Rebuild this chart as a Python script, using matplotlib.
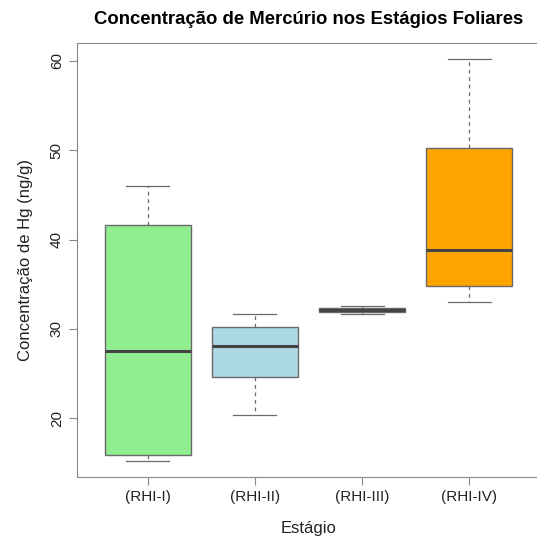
import matplotlib
matplotlib.use('Agg')
import matplotlib.pyplot as plt

plt.rcParams['font.family'] = ['Liberation Sans', 'DejaVu Sans']

# Hg concentration per leaf stage (ng/g)
stages = ['(RHI-I)', '(RHI-II)', '(RHI-III)', '(RHI-IV)']
whislo = [15.2, 20.4, 31.7, 33.0]
q1 = [15.9, 24.6, 31.9, 34.8]
med = [27.5, 28.1, 32.1, 38.8]
q3 = [41.6, 30.25, 32.4, 50.2]
whishi = [46.0, 31.7, 32.6, 60.2]
colors = ['lightgreen', 'lightblue', 'lightyellow', 'orange']

stats = []
for i in range(len(stages)):
    stats.append({'label': stages[i], 'whislo': whislo[i], 'q1': q1[i],
                  'med': med[i], 'q3': q3[i], 'whishi': whishi[i], 'fliers': []})

fig = plt.figure(figsize=(5.37, 5.39), dpi=100)
ax = fig.add_axes([77/537, 61.7/539, 463/537, 434.3/539])

edge = '#6a6a6a'
bp = ax.bxp(stats, positions=[1, 2, 3, 4], widths=0.8, patch_artist=True,
            showfliers=False,
            boxprops=dict(edgecolor=edge, linewidth=1.0),
            medianprops=dict(color='#444444', linewidth=2.2),
            whiskerprops=dict(color=edge, linewidth=0.9, linestyle=(0, (3, 3))),
            capprops=dict(color=edge, linewidth=0.9), capwidths=0.4)
for patch, c in zip(bp['boxes'], colors):
    patch.set_facecolor(c)

ax.set_xlim(0.34, 4.66)
ax.set_ylim(13.4, 62.0)
ax.set_yticks([20, 30, 40, 50, 60])
for s in ax.spines.values():
    s.set_color('#888888')
ax.tick_params(colors='#888888', labelcolor='#222222', labelsize=11, length=6)
plt.setp(ax.get_yticklabels(), rotation=90, va='center')

ax.set_title('Concentração de Mercúrio nos Estágios Foliares',
             fontsize=13.3, fontweight='bold', pad=14)
ax.set_xlabel('Estágio', fontsize=12, color='#222222', labelpad=12)
ax.set_ylabel('Concentração de Hg (ng/g)', fontsize=12, color='#222222', labelpad=12)

fig.savefig('out.png', dpi=100)
